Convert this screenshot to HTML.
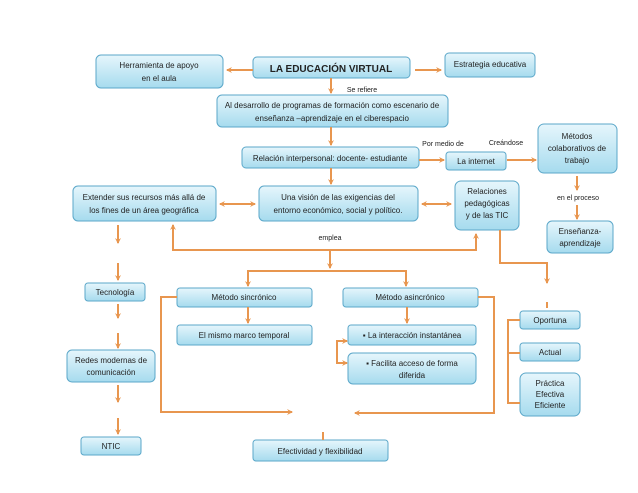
<!DOCTYPE html>
<html><head><meta charset="utf-8"><style>
body{margin:0;background:#fff}
svg{display:block}
text{font-family:"Liberation Sans",sans-serif;font-size:8px;fill:#222;text-anchor:middle}
</style></head><body>
<svg width="638" height="493" viewBox="0 0 638 493" xmlns="http://www.w3.org/2000/svg">
<defs>
<linearGradient id="g" x1="0" y1="0" x2="0" y2="1"><stop offset="0" stop-color="#e6f6fc"/><stop offset="1" stop-color="#a6dbee"/></linearGradient>
<marker id="a" markerWidth="6" markerHeight="6" refX="5" refY="3" orient="auto" markerUnits="userSpaceOnUse" viewBox="0 0 6 6"><path d="M0,0 L6,3 L0,6 L2,3z" fill="#e8964f"/></marker>
<marker id="as" markerWidth="6" markerHeight="6" refX="1" refY="3" orient="auto" markerUnits="userSpaceOnUse" viewBox="0 0 6 6"><path d="M6,0 L0,3 L6,6 L4,3z" fill="#e8964f"/></marker>
</defs>
<g fill="url(#g)" stroke="#5ba7c9" stroke-width="1">
<rect x="96" y="55" width="127" height="33" rx="5"/>
<rect x="253" y="57" width="157" height="21" rx="4"/>
<rect x="445" y="53" width="90" height="24" rx="4"/>
<rect x="217" y="95" width="231" height="32" rx="5"/>
<rect x="242" y="147" width="177" height="21" rx="4"/>
<rect x="446" y="152" width="60" height="18" rx="3"/>
<rect x="538" y="124" width="79" height="49" rx="6"/>
<rect x="547" y="221" width="66" height="32" rx="5"/>
<rect x="73" y="186" width="143" height="35" rx="5"/>
<rect x="259" y="186" width="159" height="35" rx="5"/>
<rect x="455" y="181" width="64" height="49" rx="6"/>
<rect x="177" y="288" width="135" height="19" rx="3"/>
<rect x="343" y="288" width="135" height="19" rx="3"/>
<rect x="177" y="325" width="135" height="20" rx="3"/>
<rect x="348" y="325" width="128" height="20" rx="3"/>
<rect x="348" y="353" width="128" height="31" rx="5"/>
<rect x="253" y="440" width="135" height="21" rx="3"/>
<rect x="85" y="283" width="60" height="18" rx="3"/>
<rect x="67" y="350" width="88" height="32" rx="5"/>
<rect x="81" y="437" width="60" height="18" rx="3"/>
<rect x="520" y="311" width="60" height="18" rx="3"/>
<rect x="520" y="343" width="60" height="18" rx="3"/>
<rect x="520" y="373" width="60" height="43" rx="6"/>
</g>
<g stroke="#e8964f" stroke-width="2" fill="none">
<line x1="253" y1="70" x2="227" y2="70" marker-end="url(#a)"/>
<line x1="415" y1="70" x2="441" y2="70" marker-end="url(#a)"/>
<line x1="331" y1="78" x2="331" y2="93" marker-end="url(#a)"/>
<line x1="331" y1="127" x2="331" y2="145" marker-end="url(#a)"/>
<line x1="331" y1="168" x2="331" y2="184" marker-end="url(#a)"/>
<line x1="419" y1="160" x2="444" y2="160" marker-end="url(#a)"/>
<line x1="507" y1="160" x2="536" y2="160" marker-end="url(#a)"/>
<line x1="577" y1="176" x2="577" y2="190" marker-end="url(#a)"/>
<line x1="577" y1="205" x2="577" y2="219" marker-end="url(#a)"/>
<line x1="220" y1="204" x2="255" y2="204" marker-start="url(#as)" marker-end="url(#a)"/>
<line x1="422" y1="204" x2="451" y2="204" marker-start="url(#as)" marker-end="url(#a)"/>
<polyline points="173,225 173,250 476,250 476,234" marker-start="url(#as)" marker-end="url(#a)"/>
<line x1="330" y1="250" x2="330" y2="268" marker-end="url(#a)"/>
<polyline points="248,285 248,271 406,271 406,285"/>
<line x1="248" y1="278" x2="248" y2="286" marker-end="url(#a)"/>
<line x1="406" y1="278" x2="406" y2="286" marker-end="url(#a)"/>
<line x1="248" y1="307" x2="248" y2="323" marker-end="url(#a)"/>
<line x1="407" y1="307" x2="407" y2="323" marker-end="url(#a)"/>
<polyline points="346,341 337,341 337,363 346,363"/>
<line x1="340" y1="341" x2="347" y2="341" marker-end="url(#a)"/>
<line x1="340" y1="363" x2="347" y2="363" marker-end="url(#a)"/>
<polyline points="177,297 161,297 161,412 292,412" marker-end="url(#a)"/>
<polyline points="478,297 494,297 494,413 355,413" marker-end="url(#a)"/>
<line x1="323" y1="432" x2="323" y2="440"/>
<polyline points="500,230 500,263 547,263 547,283" marker-end="url(#a)"/>
<line x1="547" y1="302" x2="547" y2="308"/>
<polyline points="520,320 508,320 508,403 520,403"/>
<line x1="508" y1="353" x2="520" y2="353"/>
<line x1="118" y1="225" x2="118" y2="243" marker-end="url(#a)"/>
<line x1="118" y1="263" x2="118" y2="280" marker-end="url(#a)"/>
<line x1="118" y1="304" x2="118" y2="318" marker-end="url(#a)"/>
<line x1="118" y1="333" x2="118" y2="348" marker-end="url(#a)"/>
<line x1="118" y1="385" x2="118" y2="402" marker-end="url(#a)"/>
<line x1="118" y1="418" x2="118" y2="434" marker-end="url(#a)"/>
</g>
<text x="159" y="68">Herramienta de apoyo</text>
<text x="159" y="81">en el aula</text>
<text x="331" y="72" style="font-size:10px;font-weight:bold">LA EDUCACIÓN VIRTUAL</text>
<text x="490" y="67">Estrategia educativa</text>
<text x="362" y="92" style="font-size:7px">Se refiere</text>
<text x="332" y="108">Al desarrollo de programas de formación como escenario de</text>
<text x="332" y="121">enseñanza –aprendizaje en el ciberespacio</text>
<text x="330" y="161">Relación interpersonal: docente- estudiante</text>
<text x="443" y="146" style="font-size:7px">Por medio de</text>
<text x="506" y="145" style="font-size:7px">Creándose</text>
<text x="476" y="164">La internet</text>
<text x="577" y="139">Métodos</text>
<text x="577" y="151">colaborativos de</text>
<text x="577" y="163">trabajo</text>
<text x="578" y="200" style="font-size:7px">en el proceso</text>
<text x="580" y="234">Enseñanza-</text>
<text x="580" y="246">aprendizaje</text>
<text x="144" y="200">Extender sus recursos más allá de</text>
<text x="144" y="213">los fines de un área geográfica</text>
<text x="338" y="200">Una visión de las exigencias del</text>
<text x="338" y="213">entorno económico, social y político.</text>
<text x="487" y="194">Relaciones</text>
<text x="487" y="206">pedagógicas</text>
<text x="487" y="218">y de las TIC</text>
<text x="330" y="240" style="font-size:7px">emplea</text>
<text x="244" y="300">Método sincrónico</text>
<text x="410" y="300">Método asincrónico</text>
<text x="244" y="338">El mismo marco temporal</text>
<text x="412" y="338">▪ La interacción instantánea</text>
<text x="412" y="366">▪ Facilita acceso de forma</text>
<text x="412" y="378">diferida</text>
<text x="320" y="454">Efectividad y flexibilidad</text>
<text x="115" y="295">Tecnología</text>
<text x="111" y="363">Redes modernas de</text>
<text x="111" y="375">comunicación</text>
<text x="111" y="449">NTIC</text>
<text x="550" y="323">Oportuna</text>
<text x="550" y="355">Actual</text>
<text x="550" y="386">Práctica</text>
<text x="550" y="397">Efectiva</text>
<text x="550" y="408">Eficiente</text>
</svg>
</body></html>
